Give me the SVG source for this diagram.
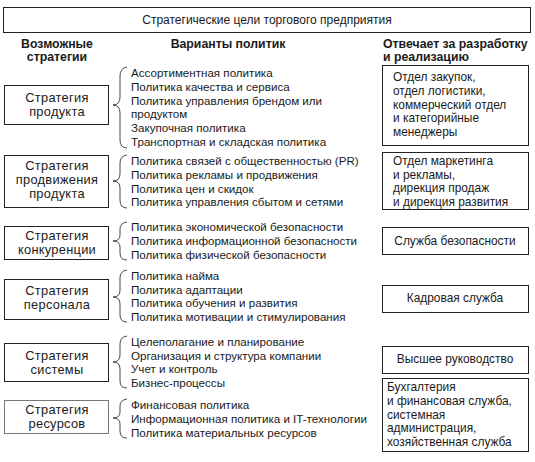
<svg xmlns="http://www.w3.org/2000/svg" width="535" height="462" viewBox="0 0 535 462">
<style>
text{font-family:"Liberation Sans",Arial,sans-serif;font-size:11.6px;fill:#1a1a1a}
.t{font-size:12px}
.h{font-weight:bold;font-size:12.3px}
.s{font-size:12.8px;letter-spacing:0.3px;text-anchor:middle}
.r{font-size:11.9px}
.c{text-anchor:middle}
.box{fill:#fff;stroke:#222;stroke-width:1}
.gbox{fill:#fff;stroke:#777;stroke-width:1}
.br{fill:none;stroke:#333;stroke-width:0.9}
</style>
<rect width="535" height="462" fill="#fff"/>
<g id="goal">
<rect class="box" x="3.5" y="7.5" width="527" height="25"/>
<text class="t c" x="267" y="24">Стратегические цели торгового предприятия</text>
</g>
<g id="headers">
<text class="h c" x="57" y="48">Возможные</text>
<text class="h c" x="57" y="61">стратегии</text>
<text class="h c" x="228" y="48">Варианты политик</text>
<text class="h" x="383" y="48">Отвечает за разработку</text>
<text class="h" x="383" y="61">и реализацию</text>
</g>
<g id="s1">
<rect class="box" x="4.5" y="85.5" width="104" height="39"/>
<text class="s" x="57" y="102">Стратегия</text>
<text class="s" x="57" y="116">продукта</text>
</g>
<g id="s2">
<rect class="box" x="4.5" y="155.5" width="104" height="52"/>
<text class="s" x="57" y="170">Стратегия</text>
<text class="s" x="57" y="184">продвижения</text>
<text class="s" x="57" y="198">продукта</text>
</g>
<g id="s3">
<rect class="box" x="4.5" y="226.5" width="104" height="33"/>
<text class="s" x="57" y="240">Стратегия</text>
<text class="s" x="57" y="254">конкуренции</text>
</g>
<g id="s4">
<rect class="box" x="4.5" y="279.5" width="104" height="40"/>
<text class="s" x="57" y="295">Стратегия</text>
<text class="s" x="57" y="309">персонала</text>
</g>
<g id="s5">
<rect class="box" x="4.5" y="343.5" width="104" height="38"/>
<text class="s" x="57" y="360">Стратегия</text>
<text class="s" x="57" y="374">системы</text>
</g>
<g id="s6">
<rect class="gbox" x="4.5" y="400.5" width="104" height="33"/>
<text class="s" x="57" y="414">Стратегия</text>
<text class="s" x="57" y="428">ресурсов</text>
</g>
<g id="p1">
<text x="131" y="77">Ассортиментная политика</text>
<text x="131" y="91">Политика качества и сервиса</text>
<text x="131" y="105">Политика управления брендом или</text>
<text x="131" y="118">продуктом</text>
<text x="131" y="132">Закупочная политика</text>
<text x="131" y="146">Транспортная и складская политика</text>
</g>
<g id="p2">
<text x="131" y="165">Политика связей с общественностью (PR)</text>
<text x="131" y="179">Политика рекламы и продвижения</text>
<text x="131" y="193">Политика цен и скидок</text>
<text x="131" y="206">Политика управления сбытом и сетями</text>
</g>
<g id="p3">
<text x="131" y="231">Политика экономической безопасности</text>
<text x="131" y="245">Политика информационной безопасности</text>
<text x="131" y="259">Политика физической безопасности</text>
</g>
<g id="p4">
<text x="131" y="280">Политика найма</text>
<text x="131" y="294">Политика адаптации</text>
<text x="131" y="307">Политика обучения и развития</text>
<text x="131" y="321">Политика мотивации и стимулирования</text>
</g>
<g id="p5">
<text x="131" y="346">Целеполагание и планирование</text>
<text x="131" y="360">Организация и структура компании</text>
<text x="131" y="373">Учет и контроль</text>
<text x="131" y="387">Бизнес-процессы</text>
</g>
<g id="p6">
<text x="131" y="409">Финансовая политика</text>
<text x="131" y="423">Информационная политика и IT-технологии</text>
<text x="131" y="437">Политика материальных ресурсов</text>
</g>
<g id="r1">
<rect class="box" x="382.5" y="65.5" width="146" height="80"/>
<text class="r" x="393" y="81">Отдел закупок,</text>
<text class="r" x="393" y="95">отдел логистики,</text>
<text class="r" x="393" y="109">коммерческий отдел</text>
<text class="r" x="393" y="122">и категорийные</text>
<text class="r" x="393" y="136">менеджеры</text>
</g>
<g id="r2">
<rect class="box" x="382.5" y="152.5" width="146" height="57"/>
<text class="r" x="393" y="165">Отдел маркетинга</text>
<text class="r" x="393" y="179">и рекламы,</text>
<text class="r" x="393" y="192">дирекция продаж</text>
<text class="r" x="393" y="206">и дирекция развития</text>
</g>
<g id="r3">
<rect class="box" x="382.5" y="227.5" width="146" height="27"/>
<text class="r c" x="455" y="245">Служба безопасности</text>
</g>
<g id="r4">
<rect class="box" x="382.5" y="285.5" width="146" height="27"/>
<text class="r c" x="455" y="302">Кадровая служба</text>
</g>
<g id="r5">
<rect class="box" x="382.5" y="346.5" width="146" height="27"/>
<text class="r c" x="455" y="363">Высшее руководство</text>
</g>
<g id="r6">
<rect class="box" x="382.5" y="378.5" width="146" height="73"/>
<text class="r" x="387" y="391">Бухгалтерия</text>
<text class="r" x="387" y="405">и финансовая служба,</text>
<text class="r" x="387" y="419">системная</text>
<text class="r" x="387" y="432">администрация,</text>
<text class="r" x="387" y="446">хозяйственная служба</text>
</g>
<g id="connectors">
<path class="br" d="M127,67 Q120,68 120,76 L120,97 Q120,105 113,105 Q120,105 120,113 L120,140 Q120,148 127,148"/>
<path class="br" d="M127,155 Q120,156 120,163 L120,174 Q120,181 113,181 Q120,181 120,188 L120,200 Q120,208 127,208"/>
<path class="br" d="M127,222 Q120,223 120,229 L120,235 Q120,241 113,241 Q120,241 120,247 L120,253 Q120,260 127,260"/>
<path class="br" d="M127,270 Q120,271 120,278 L120,290 Q120,297 113,297 Q120,297 120,304 L120,315 Q120,322 127,322"/>
<path class="br" d="M127,336 Q120,337 120,344 L120,355 Q120,362 113,362 Q120,362 120,369 L120,381 Q120,388 127,388"/>
<path class="br" d="M127,399 Q120,400 120,406 L120,412 Q120,418 113,418 Q120,418 120,424 L120,431 Q120,438 127,438"/>
</g>
</svg>
